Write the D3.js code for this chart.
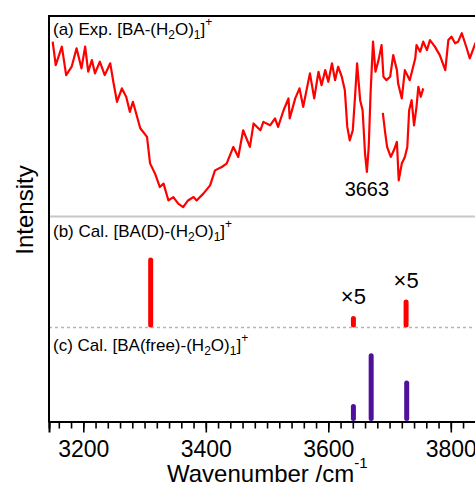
<!DOCTYPE html>
<html>
<head>
<meta charset="utf-8" />
<style type="text/css">
*{margin:0px;padding:0px;}
body{background:#fff;}
svg text{font-family:Arial,"Liberation Sans",sans-serif;fill:#000;}
</style>
</head>
<body>
<script type="text/javascript" src="https://cdn.jsdelivr.net/npm/d3@7/dist/d3.min.js"></script>
<script type="text/javascript">
// (a) experimental trace, wavenumber / relative intensity
var expWn = [3150,3155,3165,3172,3181,3189,3197,3203,3208,3214,3219,3227,3235,3244,3249,3255,3263,3270,3276,3281,
	3293,3304,3309,3317,3325,3331,3339,3347,3355,3363,3371,3380,3385,3396,3407,3415,3426,3434,3445,3453,
	3461,3472,3478,3489,3494,3505,3513,3518,3527,3535,3537,3546,3553,3559,3570,3577,3584,3589,3595,3600,
	3606,3611,3616,3622,3627,3631,3635,3640,3644,3647,3652,3656,3660,3663,3666,3669,3673,3677,3682,3687,
	3690,3695,3701,3706,3712,3714,3720,3725,3733,3742,3744,3750,3755,3761,3766,3774,3782,3791,3796,3801,
	3807,3812,3818,3826,3831,3840,3848];
var expInt = [87.2,75.5,84.7,70.5,74.7,83.9,73.9,84.7,72.2,78,71.4,77.2,70.5,76.4,67.2,57.2,63.9,59.7,52.2,57.2,
	44,39.7,26.5,21.5,14.7,16.4,8,9.7,6.4,4.7,8,9.7,8,11.4,15.5,23,24.7,26.4,34.7,29.7,
	43,34.7,46.4,43,47.2,45.5,48.9,44.7,53,58.9,48.9,58.9,63.9,54.7,71.4,58.9,72.2,65.5,73,67.2,
	76.4,68,74.7,69.7,63,44.7,38,43,61.4,76.4,58,53,31.4,22.2,34.7,61.4,87.2,72.2,78,85.5,
	69.7,68,69.7,80.5,73,66.4,58.9,73,68,78.9,85.5,82.2,87.2,83,88,84.7,80.5,73,88,89.7,
	86.4,87.2,91.4,83.9,78.9,86.4,88];
// second scan over the 3690-3755 region
var exp2Wn = [3689,3693,3696,3702,3707,3712,3715,3720,3725,3729,3732,3736,3740,3744,3747,3751,3755];
var exp2Int = [51.7,41.4,34.7,29.7,33,37.2,18,26.4,29.7,34.7,53,58,45.5,54.7,64.7,59.7,63.9];

// (b) and (c) calculated sticks
var calBWn = [3310, 3641, 3727];
var calBInt = [1.0, 0.164, 0.40];
var calBNote = ["", "\u00d75", "\u00d75"];
var calCWn = [3641, 3670, 3728];
var calCInt = [0.25, 0.976, 0.586];

var tickMajor = [3200, 3400, 3600, 3800];
var tickMinor = d3.range(3160, 3850, 20);

var W = 475, H = 483;
var pLeft = 49, pTop = 16, pBottom = 421.5;
var sepA = 216.5, sepB = 327.5;

var svg = d3.select("body").append("svg").attr("width", W).attr("height", H);

var x = d3.scaleLinear().domain([3144, 3850]).range([pLeft, pLeft + 706 * 0.6125]);
var ya = d3.scaleLinear().domain([0, 100]).range([sepA, pTop]);
var yb = d3.scaleLinear().domain([0, 1]).range([sepB, sepB - 70]);
var yc = d3.scaleLinear().domain([0, 1]).range([pBottom, pBottom - 70]);

svg.append("defs").append("clipPath").attr("id", "plot")
	.append("rect").attr("x", pLeft).attr("y", pTop).attr("width", W - pLeft).attr("height", pBottom - pTop);

// panel separators
svg.append("line").attr("x1", pLeft).attr("x2", W).attr("y1", sepA).attr("y2", sepA)
	.attr("stroke", "#c8c8c8").attr("stroke-width", 2);
svg.append("line").attr("x1", pLeft).attr("x2", W).attr("y1", sepB).attr("y2", sepB)
	.attr("stroke", "#b4b4b4").attr("stroke-width", 1.3).attr("stroke-dasharray", "3,3");

var g = svg.append("g").attr("clip-path", "url(#plot)");

var line = d3.line().x(function(d){return x(d[0])}).y(function(d){return ya(d[1])});
g.append("path").datum(d3.zip(expWn, expInt)).attr("d", line)
	.attr("fill", "none").attr("stroke", "#ff0000").attr("stroke-width", 2.2).attr("stroke-linejoin", "round");
g.append("path").datum(d3.zip(exp2Wn, exp2Int)).attr("d", line)
	.attr("fill", "none").attr("stroke", "#ff0000").attr("stroke-width", 2.2).attr("stroke-linejoin", "round");

g.selectAll("line.b").data(d3.zip(calBWn, calBInt)).enter().append("line")
	.attr("x1", function(d){return x(d[0])}).attr("x2", function(d){return x(d[0])})
	.attr("y1", sepB - 2.5).attr("y2", function(d){return yb(d[1]) + 2.5})
	.attr("stroke", "#ff0000").attr("stroke-width", 5).attr("stroke-linecap", "round");

g.selectAll("line.c").data(d3.zip(calCWn, calCInt)).enter().append("line")
	.attr("x1", function(d){return x(d[0])}).attr("x2", function(d){return x(d[0])})
	.attr("y1", pBottom - 3).attr("y2", function(d){return yc(d[1]) + 2.5})
	.attr("stroke", "#50109c").attr("stroke-width", 5).attr("stroke-linecap", "round");

svg.selectAll("text.note").data(d3.zip(calBWn, calBInt, calBNote)).enter().append("text")
	.attr("x", function(d){return x(d[0])}).attr("y", function(d){return yb(d[1]) - 12})
	.attr("text-anchor", "middle").style("font-size", "22px")
	.text(function(d){return d[2]});

svg.append("text").attr("x", x(3663)).attr("y", ya(22.2) + 24)
	.attr("text-anchor", "middle").style("font-size", "20px").text("3663");

// frame
svg.append("line").attr("x1", pLeft).attr("x2", W).attr("y1", pTop).attr("y2", pTop)
	.attr("stroke", "#000").attr("stroke-width", 2);
svg.append("line").attr("x1", pLeft).attr("x2", pLeft).attr("y1", pTop - 1).attr("y2", pBottom + 1)
	.attr("stroke", "#000").attr("stroke-width", 2);

// x axis
var axMinor = svg.append("g").attr("transform", "translate(0," + pBottom + ")")
	.call(d3.axisBottom(x).tickValues(tickMinor).tickSize(7).tickFormat(""));
var axMajor = svg.append("g").attr("transform", "translate(0," + pBottom + ")")
	.call(d3.axisBottom(x).tickValues(tickMajor).tickSize(11).tickFormat(d3.format("d")));
[axMinor, axMajor].forEach(function(a){
	a.select(".domain").attr("stroke", "#000").attr("stroke-width", 2);
	a.selectAll(".tick line").attr("stroke", "#000").attr("stroke-width", 1.6);
});
axMajor.selectAll(".tick text").attr("dy", 0).attr("y", 35)
	.style("font-size", "23px").style("font-family", "Arial, 'Liberation Sans', sans-serif");

var xt = svg.append("text").attr("x", 167).attr("y", 482).style("font-size", "24px");
xt.append("tspan").text("Wavenumber /cm");
xt.append("tspan").attr("dy", -14).style("font-size", "15px").text("-1");

svg.append("text").attr("transform", "translate(33,210) rotate(-90)")
	.attr("text-anchor", "middle").style("font-size", "24px").text("Intensity");

// panel labels
function label(y, parts)
{
	var t = svg.append("text").attr("x", 53).attr("y", y).style("font-size", "17px");
	parts.forEach(function(p){
		var s = t.append("tspan").text(p[0]);
		if(p[1] == "sub") s.style("font-size", "12px").attr("baseline-shift", "-4");
		if(p[1] == "sup") s.style("font-size", "12px").attr("baseline-shift", "9");
	});
}
label(35, [["(a) Exp. [BA-(H"], ["2", "sub"], ["O)"], ["1", "sub"], ["]"], ["+", "sup"]]);
label(237, [["(b) Cal. [BA(D)-(H"], ["2", "sub"], ["O)"], ["1", "sub"], ["]"], ["+", "sup"]]);
label(351, [["(c) Cal. [BA(free)-(H"], ["2", "sub"], ["O)"], ["1", "sub"], ["]"], ["+", "sup"]]);
</script>
</body>
</html>
